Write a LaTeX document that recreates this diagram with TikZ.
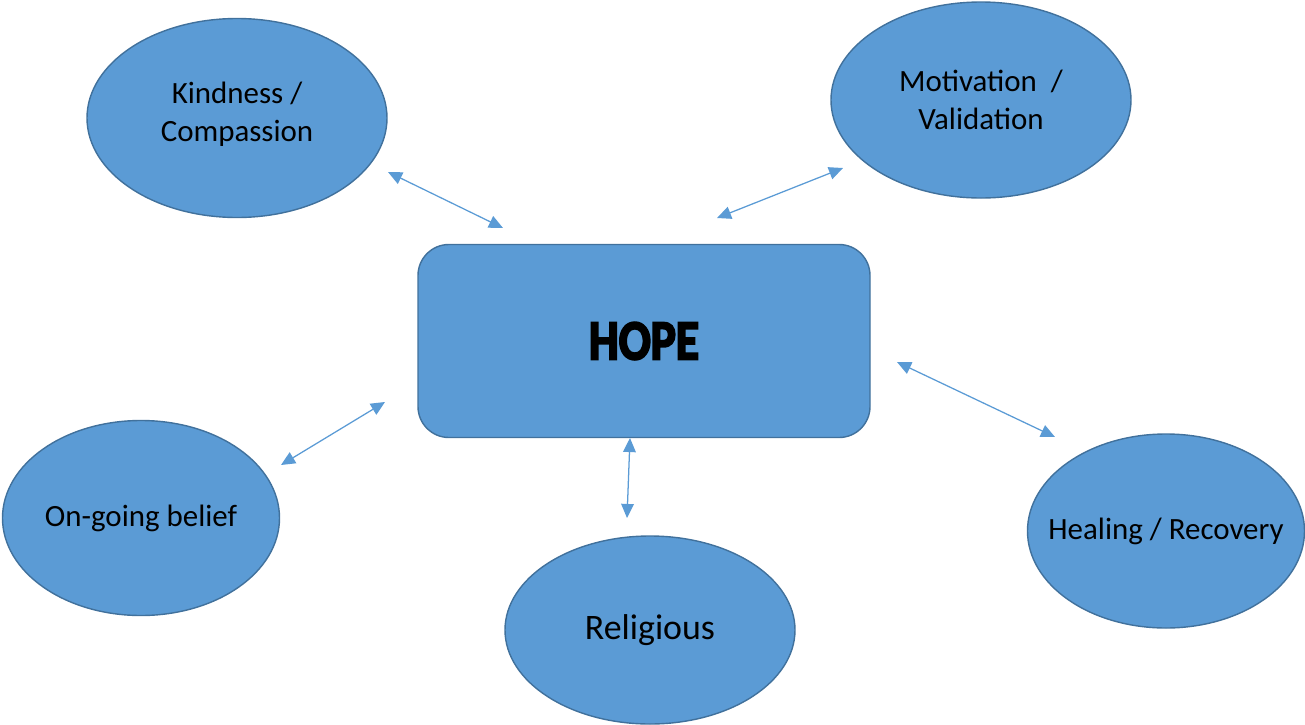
\documentclass[tikz,border=0pt]{standalone}
\usepackage{fontspec}
\usepackage{graphicx}
\setmainfont{Carlito}
\newfontfamily\hopefont[FakeBold=4]{Carlito Bold}
\usetikzlibrary{shapes.geometric,arrows.meta}
\definecolor{bubble}{HTML}{5B9BD5}
\definecolor{rim}{HTML}{41719C}

\begin{document}
\begin{tikzpicture}[x=0.025cm, y=-0.025cm,
    idea/.style={ellipse, draw=rim, fill=bubble, line width=1pt, inner sep=0pt,
        inner xsep=-3em, align=center, font=\fontsize{22}{27}\selectfont},
    link/.style={{Triangle[length=10pt,width=9pt]}-{Triangle[length=10pt,width=9pt]},
        draw=bubble, line width=0.9pt}]
    \useasboundingbox (0,0) rectangle (1305,725);
    \node (H) [draw=rim, fill=bubble, line width=1pt, rounded corners=22pt,
        minimum width=452*0.025cm, minimum height=193*0.025cm] at (644,341)
        {\fontsize{40}{40}\selectfont\scalebox{0.84}[1]{\hopefont HOPE}};
    \node (K) [idea, text depth=9pt, minimum width=300*0.025cm, minimum height=199*0.025cm] at (237,118) {Kindness /\\Compassion};
    \node (M) [idea, minimum width=300*0.025cm, minimum height=196*0.025cm] at (981,100) {Motivation\ \ /\\Validation};
    \node (B) [idea, minimum width=277*0.025cm, minimum height=195*0.025cm] at (141,518) {On-going belief};
    \node (R) [idea, minimum width=290*0.025cm, minimum height=188*0.025cm,
        font=\fontsize{25.5}{30}\selectfont] at (650,630) {Religious};
    \node (C) [idea, minimum width=277*0.025cm, minimum height=194*0.025cm] at (1166,531) {Healing / Recovery};
    % arrow ends
    \coordinate (k1) at (388,172);
    \coordinate (k2) at (503,228);
    \coordinate (m1) at (717,218);
    \coordinate (m2) at (843,168);
    \coordinate (b1) at (385,402);
    \coordinate (b2) at (281,465);
    \coordinate (r1) at (630,438);
    \coordinate (r2) at (627,518);
    \coordinate (c1) at (897,362);
    \coordinate (c2) at (1055,437);
    \draw[link] (k1) -- (k2);
    \draw[link] (m1) -- (m2);
    \draw[link] (b1) -- (b2);
    \draw[link] (r1) -- (r2);
    \draw[link] (c1) -- (c2);
\end{tikzpicture}
\end{document}
